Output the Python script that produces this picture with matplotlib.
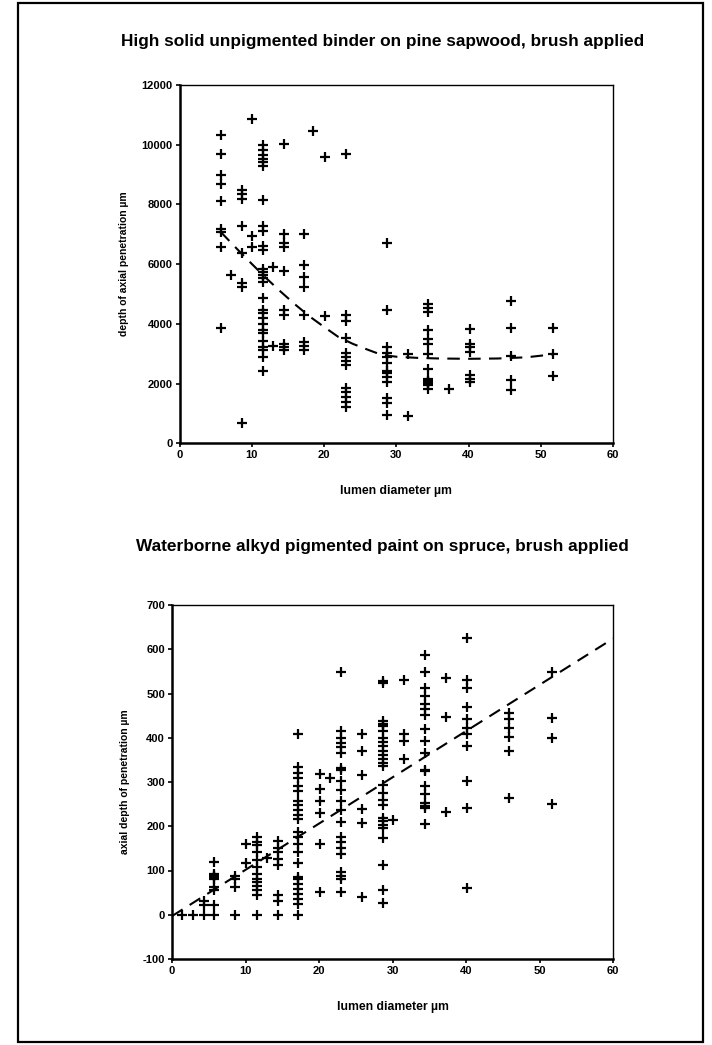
import matplotlib
matplotlib.use("Agg")
import matplotlib.pyplot as plt
from matplotlib.patches import Rectangle

plt.rcParams['font.family'] = ['Liberation Sans', 'DejaVu Sans']
plt.rcParams['axes.unicode_minus'] = False

# ---------------- data: top chart ----------------
top_title = "High solid unpigmented binder on pine sapwood, brush applied"
top_ylabel = "depth of axial penetration \u00b5m"
xlabel = "lumen diameter \u00b5m"
top_cols = [5.7, 7.1, 8.6, 10.0, 11.5, 12.9, 14.4, 17.2, 18.5, 20.1, 23.0,
            28.7, 31.6, 34.4, 37.3, 40.2, 45.9, 51.7]
top_vals = [
    [10330, 9680, 8970, 8700, 8110, 7190, 7080, 6580, 3850],
    [5630],
    [8500, 8360, 8190, 7280, 6380, 5370, 5240, 690],
    [10850, 6930, 6580],
    [9980, 9830, 9640, 9530, 9420, 9280, 8160, 7270, 7110, 6610, 6470, 5850,
     5740, 5630, 5520, 5400, 4870, 4460, 4370, 4180, 4010, 3790, 3680, 3420,
     3210, 3120, 2880, 2420],
    [5910, 3250],
    [10030, 7000, 6710, 6560, 5770, 4460, 4310, 3320, 3210, 3120],
    [7000, 5960, 5570, 5220, 4310, 3400, 3250, 3120],
    [10450],
    [9590, 4260],
    [9700, 4290, 4100, 3510, 3010, 2880, 2750, 2620, 1840, 1710, 1560, 1390, 1220],
    [6720, 4460, 3210, 3020, 2880, 2700, 2420, 2340, 2230, 2060, 1510, 1350, 960],
    [2990, 910],
    [4650, 4520, 4400, 3810, 3480, 3320, 2980, 2480, 2170, 2100, 2060, 1990, 1950, 1810],
    [1810],
    [3820, 3340, 3230, 3060, 2280, 2170, 2060],
    [4760, 3850, 2920, 2120, 1780],
    [3850, 2990, 2250],
]
top_trend_x = [5.7, 8, 10, 12, 14, 16, 18, 20, 22, 24, 26, 28, 30, 33, 36, 40, 44, 48, 51.7]
top_trend_y = [7080, 6500, 6010, 5530, 5080, 4650, 4250, 3900, 3560, 3330, 3140,
               2960, 2900, 2860, 2840, 2830, 2840, 2880, 2980]
top_xticks = [0, 10, 20, 30, 40, 50, 60]
top_yticks = [0, 2000, 4000, 6000, 8000, 10000, 12000]

# ---------------- data: bottom chart ----------------
bot_title = "Waterborne alkyd pigmented paint on spruce, brush applied"
bot_ylabel = "axial depth of penetration \u00b5m"
bot_cols = [1.4, 2.9, 4.3, 5.7, 8.6, 10.0, 11.5, 12.9, 14.4, 17.2, 20.1, 21.5,
            23.0, 25.8, 28.7, 30.1, 31.6, 34.4, 37.3, 40.2, 45.9, 51.7]
bot_vals = [
    [0],
    [0],
    [32, 21, 0],
    [120, 93, 88, 85, 80, 63, 55, 22, 0],
    [88, 81, 63, 0],
    [159, 116],
    [176, 165, 158, 141, 123, 108, 93, 81, 74, 66, 55, 44, 0],
    [129],
    [167, 150, 141, 127, 112, 44, 32, 0],
    [409, 333, 320, 308, 292, 279, 256, 249, 237, 226, 217, 188, 176, 161, 142,
     116, 85, 81, 70, 59, 47, 36, 25, 0],
    [317, 284, 256, 229, 159, 51],
    [308],
    [548, 415, 400, 389, 379, 366, 332, 326, 303, 283, 256, 237, 209, 176, 165,
     151, 138, 97, 88, 80, 51],
    [408, 370, 315, 239, 208, 40],
    [529, 523, 438, 431, 427, 415, 400, 391, 381, 371, 362, 352, 342, 337, 294,
     275, 260, 249, 218, 211, 203, 197, 173, 113, 57, 27],
    [214],
    [531, 408, 393, 353],
    [586, 548, 513, 495, 476, 465, 452, 419, 393, 366, 328, 324, 290, 273, 252,
     245, 242, 204],
    [534, 448, 233],
    [626, 531, 512, 470, 442, 423, 409, 381, 302, 242, 60],
    [457, 442, 423, 402, 370, 264],
    [548, 444, 400, 250],
]
bot_trend_x = [0, 60]
bot_trend_y = [-3, 624]
bot_xticks = [0, 10, 20, 30, 40, 50, 60]
bot_yticks = [-100, 0, 100, 200, 300, 400, 500, 600, 700]


def expand(cols, vals):
    xs, ys = [], []
    for c, vs in zip(cols, vals):
        for v in vs:
            xs.append(c)
            ys.append(v)
    return xs, ys


W, H = 712, 1045
fig = plt.figure(figsize=(W / 100, H / 100), dpi=100)
fig.patch.set_facecolor('white')

# page frame
fig.add_artist(Rectangle((18 / W, 1 - 1042 / H), (703 - 18) / W, (1042 - 3) / H,
                         transform=fig.transFigure, fill=False, lw=1.6,
                         edgecolor='black'))


def style_axes(ax, xticks, yticks, ylim):
    ax.set_xlim(0, 60)
    ax.set_ylim(*ylim)
    ax.set_xticks(xticks)
    ax.set_yticks(yticks)
    ax.tick_params(direction='out', length=3, width=1.2, labelsize=8,
                   pad=2, colors='black')
    for lab in ax.get_xticklabels() + ax.get_yticklabels():
        lab.set_fontweight('bold')
    for s in ['top', 'right']:
        ax.spines[s].set_linewidth(1.0)
    for s in ['left', 'bottom']:
        ax.spines[s].set_linewidth(1.8)


# top chart
ax1 = fig.add_axes([179.5 / W, 1 - 443.3 / H, (613 - 179.5) / W, (443.3 - 85) / H])
tx, ty = expand(top_cols, top_vals)
ax1.plot(tx, ty, linestyle='none', marker='+', markersize=6.5, mew=1.6, color='black')
ax1.plot(top_trend_x, top_trend_y, color='black', lw=1.5, dashes=(6, 4))
style_axes(ax1, top_xticks, top_yticks, (0, 12000))
ax1.set_xlabel(xlabel, fontsize=8.8, fontweight='bold', labelpad=18)
ax1.set_ylabel(top_ylabel, fontsize=7.5, fontweight='bold', labelpad=9)

# bottom chart
ax2 = fig.add_axes([172 / W, 1 - 959 / H, (613 - 172) / W, (959 - 605) / H])
bx, by = expand(bot_cols, bot_vals)
ax2.plot(bx, by, linestyle='none', marker='+', markersize=6.5, mew=1.6, color='black')
ax2.plot(bot_trend_x, bot_trend_y, color='black', lw=1.5, dashes=(6, 4))
style_axes(ax2, bot_xticks, bot_yticks, (-100, 700))
ax2.set_xlabel(xlabel, fontsize=8.8, fontweight='bold', labelpad=18)
ax2.set_ylabel(bot_ylabel, fontsize=7.5, fontweight='bold', labelpad=9)

fig.text(383 / W, 1 - 42 / H, top_title, ha='center', va='center',
         fontsize=12.4, fontweight='bold')
fig.text(382 / W, 1 - 547 / H, bot_title, ha='center', va='center',
         fontsize=12.4, fontweight='bold')

fig.savefig('out.png', dpi=100, facecolor='white')
